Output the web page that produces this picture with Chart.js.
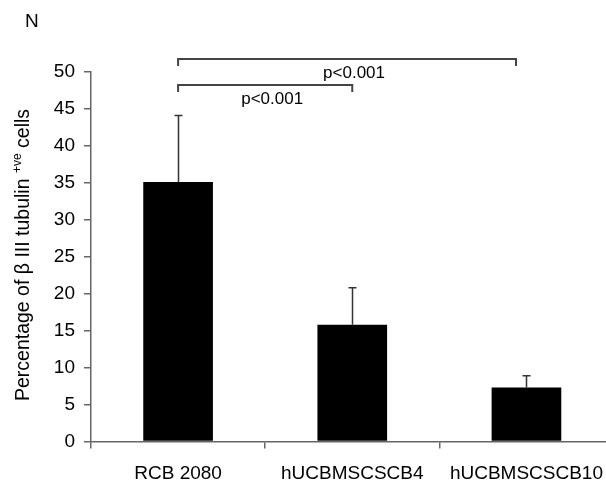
<!DOCTYPE html>
<html>
<head>
<meta charset="utf-8">
<script src="https://cdn.jsdelivr.net/npm/chart.js@4"></script>
<style>
html,body{margin:0;padding:0;background:#fff;overflow:hidden;width:606px;height:482px;}
canvas{display:block;}
</style>
</head>
<body>
<canvas id="c" width="617" height="482"></canvas>
<script>
// ---- data ----
const categories = ['RCB 2080', 'hUCBMSCSCB4', 'hUCBMSCSCB10'];
const values = [35.1, 15.8, 7.3];
const errors = [9.0, 5.0, 1.6];
const yTicks = [0, 5, 10, 15, 20, 25, 30, 35, 40, 45, 50];
const bracketFrom = [0, 0];
const bracketTo = [1, 1.94];
const bracketLevel = [48.3, 51.7];
const bracketLabels = ['p<0.001', 'p<0.001'];
const panelLetter = 'N';
const yTitleMain = 'Percentage of \u03B2 III tubulin ';
const yTitleSup = '+ve';
const yTitleEnd = ' cells';

const FONT = '"Liberation Sans", Arial, sans-serif';

const extrasPlugin = {
  id: 'extras',
  afterDatasetsDraw(chart) {
    const ctx = chart.ctx;
    const x = chart.scales.x, y = chart.scales.y;
    ctx.save();
    // error bars (upper only)
    ctx.strokeStyle = '#333';
    ctx.lineWidth = 1.5;
    values.forEach((v, i) => {
      const px = Math.round(x.getPixelForValue(i)) + 0.5;
      const y0 = y.getPixelForValue(v);
      const y1 = y.getPixelForValue(v + errors[i]);
      ctx.beginPath();
      ctx.moveTo(px, y0); ctx.lineTo(px, y1);
      ctx.moveTo(px - 4, y1); ctx.lineTo(px + 4, y1);
      ctx.stroke();
    });
    // brackets
    ctx.strokeStyle = '#444';
    ctx.lineWidth = 2;
    ctx.fillStyle = '#000';
    ctx.font = '17px ' + FONT;
    ctx.textAlign = 'center';
    ctx.textBaseline = 'alphabetic';
    bracketLevel.forEach((lv, i) => {
      const xa = x.getPixelForValue(bracketFrom[i]);
      const xb = x.getPixelForValue(bracketTo[i]);
      const py = Math.round(y.getPixelForValue(lv));
      ctx.beginPath();
      ctx.moveTo(xa, py + 7); ctx.lineTo(xa, py); ctx.lineTo(xb, py); ctx.lineTo(xb, py + 7);
      ctx.stroke();
      ctx.fillText(bracketLabels[i], (xa + xb) / 2 + 7, py + 19);
    });
    // panel letter
    ctx.textAlign = 'left';
    ctx.font = '19px ' + FONT;
    ctx.fillText(panelLetter, 25, 27);
    // y-axis title with superscript
    ctx.translate(29, 255);
    ctx.rotate(-Math.PI / 2);
    ctx.font = '19.5px ' + FONT;
    const w1 = ctx.measureText(yTitleMain).width;
    const w3 = ctx.measureText(yTitleEnd).width;
    ctx.font = '12px ' + FONT;
    const w2 = ctx.measureText(yTitleSup).width;
    const total = w1 + w2 + w3;
    let sx = -total / 2;
    ctx.font = '19.5px ' + FONT;
    ctx.fillText(yTitleMain, sx, 0);
    sx += w1;
    ctx.font = '12px ' + FONT;
    ctx.fillText(yTitleSup, sx, -8);
    sx += w2;
    ctx.font = '19.5px ' + FONT;
    ctx.fillText(yTitleEnd, sx, 0);
    ctx.restore();
  }
};

new Chart(document.getElementById('c'), {
  type: 'bar',
  data: {
    labels: categories,
    datasets: [{
      data: values,
      backgroundColor: '#000',
      borderWidth: 0,
      barPercentage: 0.4,
      categoryPercentage: 1.0
    }]
  },
  options: {
    responsive: false,
    animation: false,
    devicePixelRatio: 1,
    layout: { padding: { top: 72, right: 0, left: 0, bottom: 0 } },
    plugins: { legend: { display: false }, tooltip: { enabled: false } },
    scales: {
      x: {
        grid: { display: true, drawOnChartArea: false, offset: true, tickLength: 7, color: '#666', lineWidth: 1.5 },
        border: { color: '#666', width: 1.5 },
        ticks: { color: '#000', font: { size: 19, family: FONT }, padding: 14, maxRotation: 0, autoSkip: false },
        afterFit(s) { s.height = 482 - 441.5; }
      },
      y: {
        min: 0, max: 50,
        afterBuildTicks(s) { s.ticks = yTicks.map(v => ({ value: v })); },
        grid: { display: true, drawOnChartArea: false, tickLength: 7, color: '#666', lineWidth: 1.5 },
        border: { color: '#666', width: 1.5 },
        ticks: { color: '#000', font: { size: 19, family: FONT }, padding: 9 },
        afterFit(s) { s.width = 91; }
      }
    }
  },
  plugins: [extrasPlugin]
});
</script>
</body>
</html>
